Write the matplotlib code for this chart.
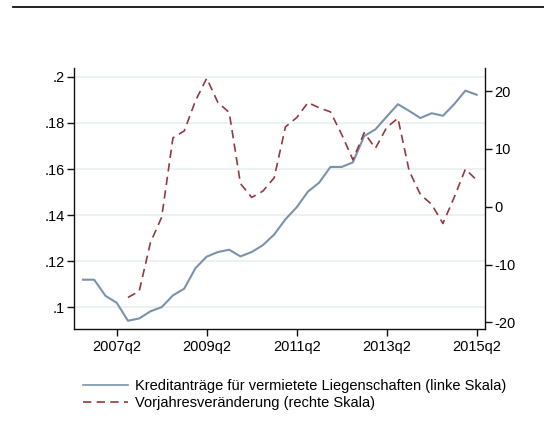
import numpy as np
import matplotlib.pyplot as plt
from matplotlib.lines import Line2D

plt.rcParams['font.family'] = ['Liberation Sans', 'DejaVu Sans']

# quarters 2006q3 .. 2015q2
quarters = [f"{2006 + (i + 2) // 4}q{(i + 2) % 4 + 1}" for i in range(36)]

# Kreditanträge für vermietete Liegenschaften (left scale)
kredit = [0.112, 0.112, 0.105, 0.102, 0.0942, 0.0952, 0.0983, 0.1001, 0.1052,
          0.1081, 0.117, 0.122, 0.124, 0.125, 0.1221, 0.124, 0.127, 0.1316,
          0.1382, 0.1434, 0.1502, 0.1541, 0.1609, 0.1609, 0.1629, 0.1743,
          0.1772, 0.1827, 0.1881, 0.1852, 0.1821, 0.1842, 0.1831, 0.1881,
          0.194, 0.1922]

# Vorjahresveränderung (right scale), starts 2007q3
vorjahr = [np.nan] * 4 + [-15.7, -14.6, -6.2, -1.8, 11.9, 13.1, 18.3, 22.2,
                          18.0, 16.3, 4.0, 1.6, 2.7, 5.0, 13.8, 15.4, 18.0, 17.1,
                          16.4, 12.5, 8.1, 12.8, 10.1, 13.7, 15.3, 6.2, 2.1, 0.4,
                          -2.9, 1.6, 6.5, 4.6]

left_ticks = [0.1, 0.12, 0.14, 0.16, 0.18, 0.2]
left_labels = ['.1', '.12', '.14', '.16', '.18', '.2']
right_ticks = [-20, -10, 0, 10, 20]
xtick_labels = ['2007q2', '2009q2', '2011q2', '2013q2', '2015q2']

blue = '#7a93ab'
red = '#923a40'

x = np.arange(len(quarters))

fig = plt.figure(figsize=(5.44, 4.46), dpi=100)
ax = fig.add_axes([0.1366, 0.2617, 0.7549, 0.5858])
ax2 = ax.twinx()

ax.plot(x, kredit, color=blue, lw=1.5, zorder=3)
ax2.plot(x, vorjahr, color=red, lw=1.2, dashes=(5, 3.2))

ax.set_xlim(-0.77, 35.74)
ax.set_ylim(0.0905, 0.2038)
ax2.set_ylim(-21.2, 23.98)

ax.set_yticks(left_ticks)
ax.set_yticklabels(left_labels)
ax2.set_yticks(right_ticks)
ax2.set_yticklabels([str(v) for v in right_ticks])
ax.set_xticks([quarters.index(q) for q in xtick_labels])
ax.set_xticklabels(xtick_labels)

ax.grid(axis='y', color='#e8f0f0', lw=1.2, zorder=0)
ax.set_axisbelow(True)

for a in (ax, ax2):
    a.spines['top'].set_visible(False)
    for s in a.spines.values():
        s.set_linewidth(1.0)
        s.set_color('#111111')
    a.tick_params(direction='out', length=5, width=1, labelsize=10.5, pad=2,
                  color='#111111')
ax.spines['right'].set_visible(False)
ax2.spines['left'].set_visible(False)
ax2.spines['bottom'].set_visible(False)
ax.tick_params(axis='x', pad=3)

handles = [Line2D([], [], color=blue, lw=1.2),
           Line2D([], [], color=red, lw=1.2, dashes=(5, 3.2))]
fig.legend(handles,
           ['Kreditanträge für vermietete Liegenschaften (linke Skala)',
            'Vorjahresveränderung (rechte Skala)'],
           loc='upper left', bbox_to_anchor=(0.153, 0.15), frameon=False,
           fontsize=10.5, handlelength=3.08, handletextpad=0.48,
           labelspacing=0.2, borderaxespad=0, borderpad=0)

fig.add_artist(Line2D([0.024, 1.0], [0.984, 0.984], color='#111111', lw=1.3,
                      transform=fig.transFigure))

fig.savefig('out.png', dpi=100)
